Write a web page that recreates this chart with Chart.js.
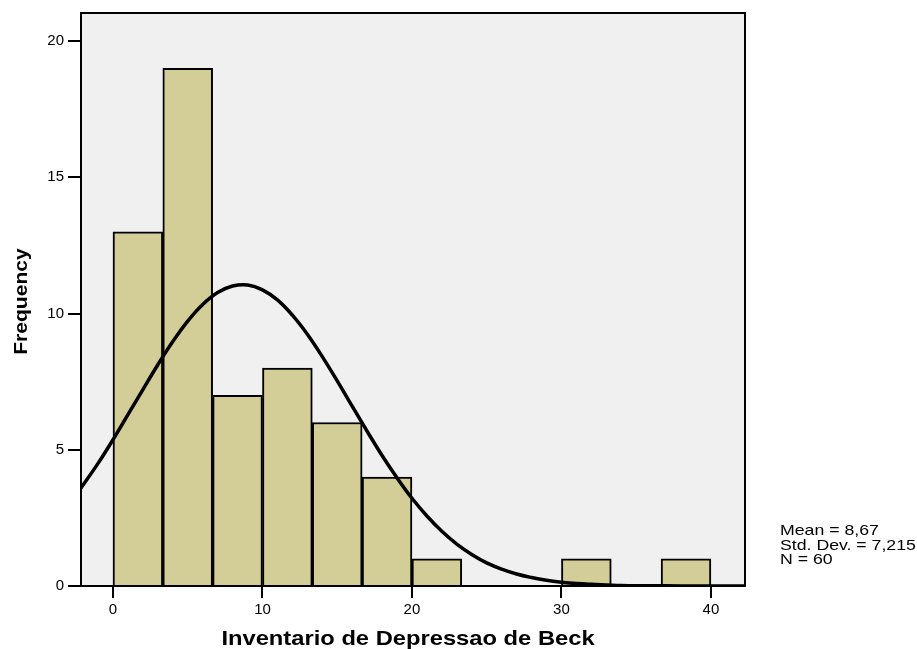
<!DOCTYPE html>
<html>
<head>
<meta charset="utf-8">
<title>Inventario de Depressao de Beck</title>
<script src="https://cdn.jsdelivr.net/npm/chart.js@4/dist/chart.umd.min.js"></script>
<style>
  html, body { margin: 0; padding: 0; background: #fff; }
  #wrap { width: 917px; height: 649px; }
</style>
</head>
<body>
<div id="wrap"><canvas id="histChart" width="917" height="649"></canvas></div>
<script>
// histogram bins (centres of 3.33-wide bins) and counts
const binCenters = [1.667, 5, 8.333, 11.667, 15, 18.333, 21.667, 25, 28.333, 31.667, 35, 38.333];
const binCounts = [13, 19, 7, 8, 6, 4, 1, 0, 0, 1, 0, 1];

// fitted normal curve, sampled along the axis
const curveX = [-2.2, -1, 0, 1, 2, 3, 4, 5, 6, 7, 8, 9, 10, 11, 12, 13, 14, 15, 16, 17, 18, 19, 20,
  21, 22, 23, 24, 25, 26, 27, 28, 29, 30, 31, 32, 33, 34, 35, 36, 38, 40, 42.5];
const curveY = [3.55, 4.50, 5.37, 6.29, 7.21, 8.12, 8.97, 9.72, 10.33, 10.77, 11.01, 11.05, 10.87,
  10.50, 9.94, 9.24, 8.42, 7.53, 6.60, 5.68, 4.79, 3.97, 3.22, 2.57, 2.01, 1.54, 1.16, 0.85,
  0.62, 0.44, 0.31, 0.21, 0.14, 0.09, 0.06, 0.04, 0.02, 0.01, 0.01, 0.0, 0.0, 0.0];

const xTicks = [0, 10, 20, 30, 40];
const yTicks = [0, 5, 10, 15, 20];
const xTitle = "Inventario de Depressao de Beck";
const yTitle = "Frequency";
const statsLines = ["Mean = 8,67", "Std. Dev. = 7,215", "N = 60"];

const FONT = "'Liberation Sans', Arial, sans-serif";

// text drawn a little wider than the font's natural width
function wideText(ctx, text, x, y, font, sx, rot) {
  ctx.save();
  ctx.font = font;
  ctx.fillStyle = "#000";
  ctx.translate(x, y);
  if (rot) ctx.rotate(rot);
  ctx.scale(sx, 1);
  ctx.fillText(text, 0, 0);
  ctx.restore();
}

// grey plot background, frame, axis titles and summary statistics
const plotFrame = {
  id: "plotFrame",
  beforeDatasetsDraw(chart) {
    const { ctx, chartArea: a } = chart;
    ctx.save();
    ctx.fillStyle = "#f0f0f0";
    ctx.fillRect(a.left, a.top, a.right - a.left, a.bottom - a.top);
    ctx.restore();
  },
  afterDraw(chart) {
    const { ctx, chartArea: a } = chart;
    ctx.save();
    ctx.strokeStyle = "#000";
    ctx.lineWidth = 2;
    ctx.strokeRect(a.left, a.top, a.right - a.left, a.bottom - a.top);
    ctx.restore();

    ctx.save();
    ctx.textAlign = "center";
    ctx.textBaseline = "alphabetic";
    wideText(ctx, xTitle, (a.left + a.right) / 2 - 5, 645, "bold 21px " + FONT, 1.13, 0);
    wideText(ctx, yTitle, 26.5, (a.top + a.bottom) / 2 + 2, "bold 19px " + FONT, 1.11, -Math.PI / 2);
    ctx.textAlign = "left";
    statsLines.forEach((t, i) => wideText(ctx, t, a.right + 35, 535 + i * 14.7, "14.5px " + FONT, 1.22, 0));
    ctx.restore();
  }
};

const ctx = document.getElementById("histChart").getContext("2d");
new Chart(ctx, {
  type: "bar",
  data: {
    datasets: [
      {
        type: "line",
        data: curveX.map((x, i) => ({ x, y: curveY[i] })),
        borderColor: "#000",
        borderWidth: 3.5,
        pointRadius: 0,
        fill: false,
        tension: 0.4,
        order: 0
      },
      {
        type: "bar",
        data: binCenters.map((x, i) => ({ x, y: binCounts[i] })),
        backgroundColor: "#d3ce97",
        borderColor: "#000",
        borderWidth: 2,
        borderSkipped: "bottom",
        barPercentage: 1,
        categoryPercentage: 1,
        order: 1
      }
    ]
  },
  options: {
    responsive: false,
    animation: false,
    layout: { padding: { top: 13, right: 172, left: 0, bottom: 0 } },
    plugins: { legend: { display: false }, tooltip: { enabled: false } },
    scales: {
      x: {
        type: "linear",
        min: -2.14,
        max: 42.28,
        offset: false,
        afterBuildTicks: s => { s.ticks = xTicks.map(v => ({ value: v })); },
        afterFit: s => { s.height = 63; },
        grid: { offset: false, drawOnChartArea: false, tickLength: 12, color: "#000", lineWidth: 2 },
        border: { display: true, color: "#000", width: 2 },
        ticks: { color: "#000", padding: 3, font: { family: FONT, size: 15 } }
      },
      y: {
        type: "linear",
        min: 0,
        max: 21.03,
        afterBuildTicks: s => { s.ticks = yTicks.map(v => ({ value: v })); },
        afterFit: s => { s.width = 81; },
        grid: { drawOnChartArea: false, tickLength: 13, color: "#000", lineWidth: 2 },
        border: { display: true, color: "#000", width: 2 },
        ticks: { color: "#000", padding: 4, font: { family: FONT, size: 15 } }
      }
    }
  },
  plugins: [plotFrame]
});
</script>
</body>
</html>
